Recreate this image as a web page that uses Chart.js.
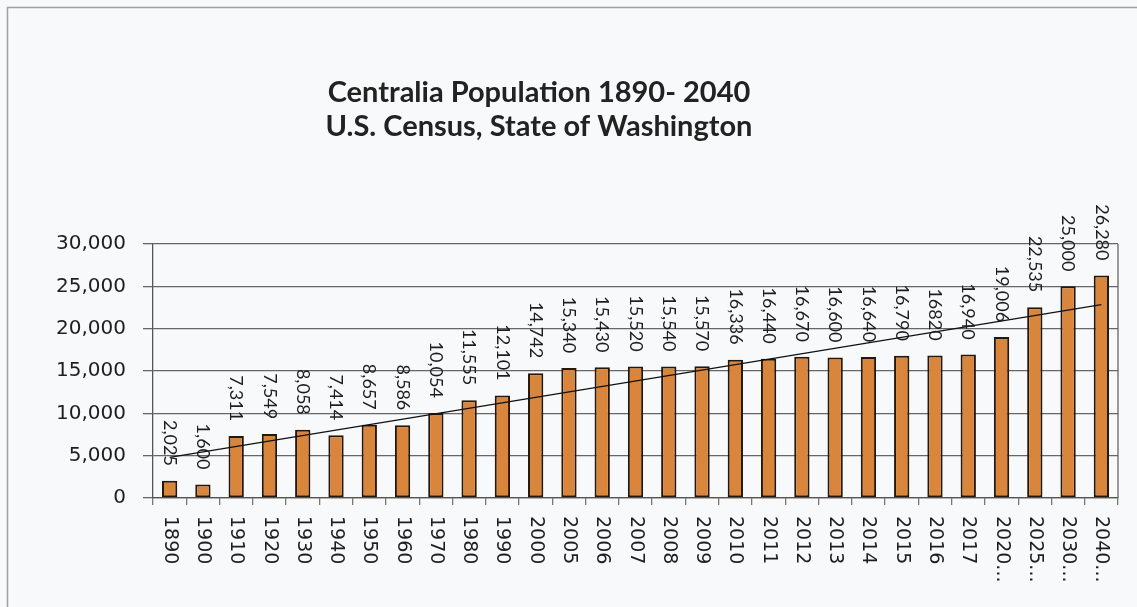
<!DOCTYPE html>
<html>
<head>
<meta charset="utf-8">
<script src="https://cdn.jsdelivr.net/npm/chart.js@4/dist/chart.umd.min.js"></script>
<style>
  html, body { margin: 0; padding: 0; background: #f8f9fa; }
  #wrap { width: 1137px; height: 607px; }
</style>
</head>
<body>
<div id="wrap"><canvas id="popChart"></canvas></div>
<script>
// census years (last four are projections, cut off in the original)
const categories = ['1890', '1900', '1910', '1920', '1930', '1940', '1950', '1960', '1970', '1980', '1990',
    '2000', '2005', '2006', '2007', '2008', '2009', '2010', '2011', '2012', '2013', '2014', '2015', '2016', '2017',
    '2020...', '2025...', '2030...', '2040...'];
const population = [2025, 1600, 7311, 7549, 8058, 7414, 8657, 8586, 10054, 11555, 12101,
    14742, 15340, 15430, 15520, 15540, 15570, 16336, 16440, 16670, 16600, 16640, 16790, 16820, 16940,
    19006, 22535, 25000, 26280];
// linear trendline, start and end
const trendEnds = [4800, 22850];
const yTicks = [0, 5000, 10000, 15000, 20000, 25000, 30000];
// this one is printed without a thousands comma in the original
const plainLabelCats = ['2016'];

const titleLines = ['Centralia Population 1890- 2040', 'U.S. Census, State of Washington'];

const fmt = n => n.toLocaleString('en-US');
const last = categories.length - 1;
const trendData = categories.map((c, i) => i === 0 ? trendEnds[0] : (i === last ? trendEnds[1] : null));

// background, frame, title, value labels and the rotated year labels
const drawExtras = {
    id: 'drawExtras',
    beforeDraw(chart) {
        const ctx = chart.ctx;
        ctx.save();
        ctx.fillStyle = '#f8f9fa';
        ctx.fillRect(0, 0, chart.width, chart.height);
        ctx.strokeStyle = '#a0a0a0';
        ctx.lineWidth = 1.5;
        ctx.beginPath();
        ctx.moveTo(7.5, chart.height);
        ctx.lineTo(7.5, 7.5);
        ctx.lineTo(chart.width, 7.5);
        ctx.stroke();

        // title (the original sits a bit left of the plot centre)
        ctx.fillStyle = '#222';
        ctx.font = 'bold 29px Lato';
        ctx.textAlign = 'center';
        ctx.textBaseline = 'middle';
        ctx.fillText(titleLines[0], 539, 93);
        ctx.fillText(titleLines[1], 539, 127);
        ctx.restore();
    },
    afterDraw(chart) {
        const ctx = chart.ctx;
        const area = chart.chartArea;
        const xScale = chart.scales.x;
        ctx.save();
        // right edge of the plot box
        ctx.strokeStyle = '#666';
        ctx.lineWidth = 1.3;
        ctx.beginPath();
        ctx.moveTo(area.right, area.top);
        ctx.lineTo(area.right, area.bottom);
        ctx.stroke();

        // value labels above the bars, reading top to bottom
        const bars = chart.getDatasetMeta(0).data;
        ctx.fillStyle = '#1e1e1e';
        ctx.font = '18px Lato';
        ctx.textAlign = 'right';
        ctx.textBaseline = 'middle';
        bars.forEach((bar, i) => {
            const txt = plainLabelCats.includes(categories[i]) ? String(population[i]) : fmt(population[i]);
            ctx.save();
            ctx.translate(bar.x, bar.y - 15);
            ctx.rotate(Math.PI / 2);
            ctx.fillText(txt, 0, 0);
            ctx.restore();
        });

        // year labels under the axis
        ctx.font = '19px "DejaVu Sans"';
        ctx.textAlign = 'left';
        ctx.fillStyle = '#1e1e1e';
        categories.forEach((c, i) => {
            ctx.save();
            ctx.translate(xScale.getPixelForValue(i), area.bottom + 18);
            ctx.rotate(Math.PI / 2);
            ctx.fillText(c, 0, 0);
            ctx.restore();
        });
        ctx.restore();
    }
};

const config = {
    type: 'bar',
    data: {
        labels: categories,
        datasets: [{
            label: 'Population',
            data: population,
            backgroundColor: '#d9853b',
            borderColor: '#24170d',
            borderWidth: 2,
            borderSkipped: false,
            barPercentage: 0.46,
            categoryPercentage: 1,
            order: 1
        }, {
            type: 'line',
            label: 'Linear trend',
            data: trendData,
            spanGaps: true,
            borderColor: '#111',
            borderWidth: 1.3,
            pointRadius: 0,
            fill: false,
            order: 0
        }]
    },
    options: {
        responsive: true,
        maintainAspectRatio: false,
        animation: false,
        layout: {
            padding: { left: 0, right: 19, top: 244, bottom: 0 }
        },
        plugins: {
            legend: { display: false },
            tooltip: { enabled: false },
            title: { display: false }
        },
        scales: {
            x: {
                offset: true,
                grid: {
                    offset: true,
                    drawOnChartArea: false,
                    color: '#777',
                    lineWidth: 1.3,
                    tickLength: 7
                },
                border: { color: '#555', width: 1.3 },
                ticks: { display: false },
                afterFit(scale) { scale.height = 109; }
            },
            y: {
                min: 0,
                max: 30000,
                afterBuildTicks(scale) { scale.ticks = yTicks.map(v => ({ value: v })); },
                grid: {
                    color: '#666',
                    lineWidth: 1.3,
                    tickLength: 10
                },
                border: { color: '#555', width: 1.3 },
                ticks: {
                    color: '#1e1e1e',
                    padding: 17,
                    font: { family: 'DejaVu Sans', size: 20 },
                    callback: v => fmt(v)
                },
                afterFit(scale) { scale.width = 153; }
            }
        }
    },
    plugins: [drawExtras]
};

const popChart = new Chart(document.getElementById('popChart'), config);
</script>
</body>
</html>
